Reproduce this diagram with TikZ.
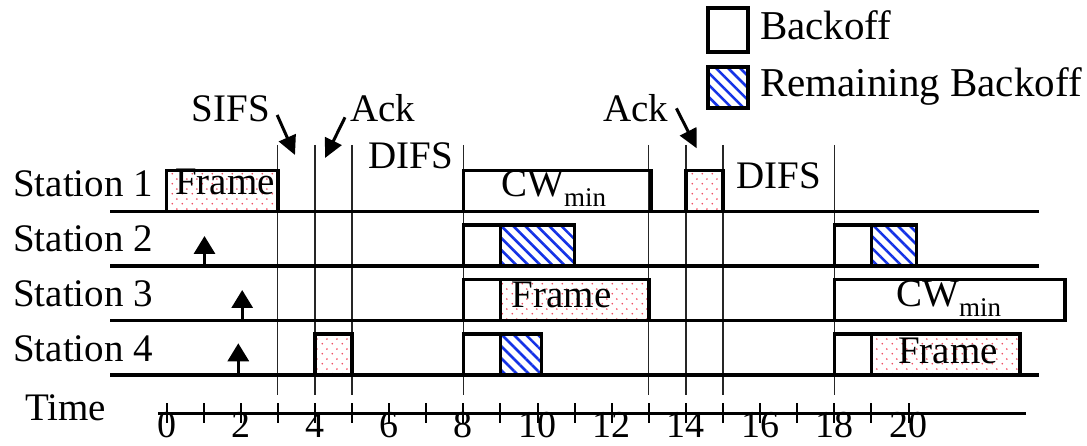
\documentclass[tikz,border=0pt]{standalone}
\usepackage{fontspec}
\setmainfont{Liberation Serif}
\usetikzlibrary{arrows.meta,patterns.meta}
\definecolor{hatchblue}{RGB}{20,50,230}
\definecolor{dotred}{RGB}{240,80,100}
\tikzdeclarepattern{
  name=stagdots,
  type=uncolored,
  bounding box={(0pt,0pt) and (10pt,10pt)},
  tile size={(10pt,10pt)},
  code={
    \fill (2.5pt,2.5pt) circle (1pt);
    \fill (7.5pt,7.5pt) circle (1pt);
  }
}
\tikzset{
 lbl/.style={font=\fontsize{39}{45}\selectfont, inner sep=0pt, anchor=base west},
 leglbl/.style={font=\fontsize{41}{47}\selectfont, inner sep=0pt, anchor=base west},
 ticklbl/.style={font=\fontsize{38}{44}\selectfont, inner sep=0pt, anchor=base},
 box/.style={draw, line width=3.5pt, inner sep=0pt, outer sep=0pt, anchor=south west, minimum height=41pt},
 framebox/.style={box, pattern=stagdots, pattern color=dotred},
 hatchbox/.style={box, pattern={Lines[angle=-45,distance=8.5pt,line width=2.6pt]}, pattern color=hatchblue},
 stline/.style={line width=3.5pt},
 vline/.style={line width=1.3pt, black!85},
 uparrow/.style={line width=3.2pt, -{Triangle[width=21pt,length=18pt]}},
 callout/.style={line width=3pt, -{Triangle[width=18pt,length=19pt]}},
 axisline/.style={line width=3pt},
 tickmark/.style={line width=2pt},
}
\newcommand{\cwmin}{CW\raisebox{-10pt}{\fontsize{27}{30}\selectfont min}}
\begin{document}
\begin{tikzpicture}[x=1pt,y=-1pt]
\useasboundingbox (0,0) rectangle (1087,446);

% vertical time markers
\foreach \t in {3,4,5,8,13,14,15,18}{
  \coordinate (vt\t) at ({166.5+37.1*\t},145);
  \coordinate (vb\t) at ({166.5+37.1*\t},395);
  \draw[vline] (vt\t) -- (vb\t);
}

% station labels and lines
\foreach \i/\yl/\yb in {1/211.5/196.7, 2/266/251.7, 3/320.5/306.7, 4/375/361.7}{
  \node[lbl] (st\i) at (13,\yb) {Station \i};
  \coordinate (la\i) at (110,\yl);
  \coordinate (lb\i) at (1039,\yl);
  \draw[stline] (la\i) -- (lb\i);
}

% Station 1
\node[framebox, minimum width=111.3pt] (s1frame) at (166.5,211.5) {};
\node[lbl] (s1frametxt) at (175,195) {Frame};
\node[box, minimum width=187.7pt] (s1cw) at (463.3,211.5) {};
\node[lbl] (s1cwtxt) at (501,196.7) {\cwmin};
\node[framebox, minimum width=37.1pt] (s1ack) at (685.9,211.5) {};

% Station 2
\node[box, minimum width=37.1pt] (s2bo1) at (463.3,266) {};
\node[hatchbox, minimum width=74.2pt] (s2rb1) at (500.4,266) {};
\node[box, minimum width=37.1pt] (s2bo2) at (834.3,266) {};
\node[hatchbox, minimum width=45.3pt] (s2rb2) at (871.4,266) {};

% Station 3
\node[box, minimum width=37.1pt] (s3bo1) at (463.3,320.5) {};
\node[framebox, minimum width=148.4pt] (s3frame) at (500.4,320.5) {};
\node[lbl] (s3frametxt) at (511.7,308) {Frame};
\node[box, minimum width=230.7pt] (s3cw) at (834.3,320.5) {};
\node[lbl] (s3cwtxt) at (896,306.7) {\cwmin};

% Station 4
\node[framebox, minimum width=37.1pt] (s4ack) at (314.9,375) {};
\node[box, minimum width=37.1pt] (s4bo1) at (463.3,375) {};
\node[hatchbox, minimum width=41.3pt] (s4rb1) at (500.4,375) {};
\node[box, minimum width=37.1pt] (s4bo2) at (834.3,375) {};
\node[framebox, minimum width=148.6pt] (s4frame) at (871.4,375) {};
\node[lbl] (s4frametxt) at (898,363.3) {Frame};

% arrival arrows
\coordinate (a2b) at (204.5,266); \coordinate (a2t) at (204.5,236);
\coordinate (a3b) at (242.2,320.5); \coordinate (a3t) at (242.2,290);
\coordinate (a4b) at (238.3,375); \coordinate (a4t) at (238.3,343.3);
\draw[uparrow] (a2b) -- (a2t);
\draw[uparrow] (a3b) -- (a3t);
\draw[uparrow] (a4b) -- (a4t);

% top labels
\node[lbl] (sifs) at (191.7,121.7) {SIFS};
\node[lbl] (ack1) at (350,121.7) {Ack};
\node[lbl] (difs1) at (368,168.3) {DIFS};
\node[lbl] (ack2) at (603,121.7) {Ack};
\node[lbl] (difs2) at (736,188.3) {DIFS};
\coordinate (sifstip) at (295,155);
\coordinate (ack1tip) at (325,158);
\coordinate (ack2tip) at (696.7,148.3);
\draw[callout] ([xshift=7pt,yshift=-6pt]sifs.east) -- (sifstip);
\draw[callout] ([xshift=-5pt,yshift=-9pt]ack1.west) -- (ack1tip);
\draw[callout] ([xshift=8pt,yshift=0pt]ack2.east) -- (ack2tip);

% legend
\node[box, line width=4pt, minimum width=40pt, minimum height=43.5pt] (legbo) at (708,52) {};
\node[leglbl] (legbotxt) at (760,40) {Backoff};
\node[hatchbox, line width=4pt, minimum width=40pt, minimum height=41.6pt] (legrb) at (708,108.3) {};
\node[leglbl] (legrbtxt) at (760,96.7) {Remaining Backoff};

% time axis
\node[lbl] (time) at (25,420) {Time};
\coordinate (axa) at (158.3,413);
\coordinate (axb) at (1025.6,413);
\draw[axisline] (axa) -- (axb);
\foreach \t in {0,...,20}{
  \coordinate (tt\t) at ({166.5+37.1*\t},403);
  \coordinate (tb\t) at ({166.5+37.1*\t},423);
  \draw[tickmark] (tt\t) -- (tb\t);
}
\foreach \t in {0,2,...,20}{
  \node[ticklbl] (tl\t) at ({166.5+37.1*\t},437.5) {\t};
}
\end{tikzpicture}
\end{document}
